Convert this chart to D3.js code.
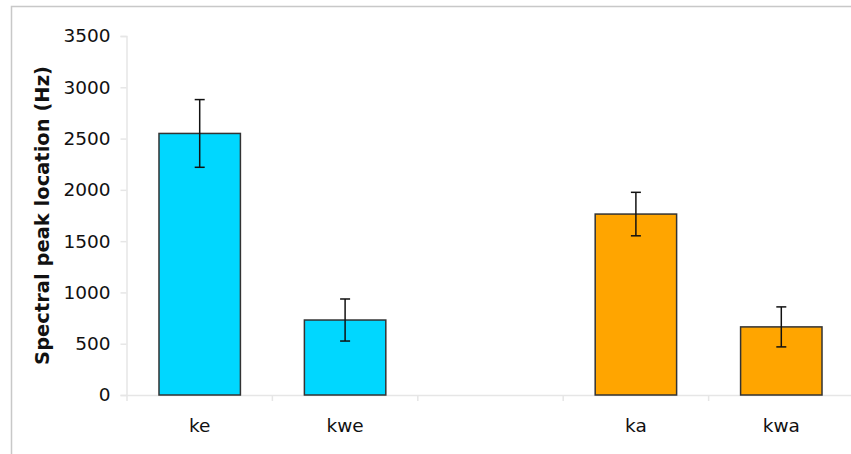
<!DOCTYPE html>
<html>
<head>
<meta charset="utf-8">
<script src="https://cdn.jsdelivr.net/npm/d3@7"></script>
<style>
  html, body { margin: 0; padding: 0; background: #fff; }
  svg { display: block; }
</style>
</head>
<body>
<svg id="chart" width="851" height="454"></svg>
<script>
const categories = ["ke", "kwe", "", "ka", "kwa"];
const values = [2550, 731, null, 1764, 664];
const errors = [330, 205, null, 212, 195];
const colors = ["#00d7ff", "#00d7ff", null, "#ffa500", "#ffa500"];
const yTicks = [0, 500, 1000, 1500, 2000, 2500, 3000, 3500];
const yLabel = "Spectral peak location (Hz)";

const svg = d3.select("#chart");
const font = "'DejaVu Sans', Verdana, sans-serif";

// outer frame
svg.append("path")
  .attr("d", "M11.5,454 V6.5 H851")
  .attr("fill", "none").attr("stroke", "#c8c8c8").attr("stroke-width", 1.5);

const x = d3.scaleBand().domain(categories).range([127, 854]).paddingInner(0.44).paddingOuter(0.22);
const y = d3.scaleLinear().domain([0, 3500]).range([395, 36]);
const step = x.step();
const x0 = 127;

// y axis
const gy = svg.append("g").attr("transform", "translate(126.5,0)")
  .call(d3.axisLeft(y).tickValues(yTicks).tickSize(6).tickPadding(10).tickFormat(d3.format("d")));
gy.select(".domain").attr("stroke", "#e6e6e6").attr("stroke-width", 1.5);
gy.selectAll(".tick line").attr("stroke", "#e6e6e6").attr("stroke-width", 1.5);
gy.selectAll(".tick text").attr("font-family", font).attr("font-size", 18.5).attr("fill", "#111");

// x axis baseline and band ticks
svg.append("line").attr("x1", 126.5).attr("x2", 851).attr("y1", y(0) + 0.5).attr("y2", y(0) + 0.5)
  .attr("stroke", "#e6e6e6").attr("stroke-width", 1.5);
svg.selectAll(".xtick").data(d3.range(categories.length + 1)).enter().append("line")
  .attr("x1", i => x0 + i * step).attr("x2", i => x0 + i * step)
  .attr("y1", y(0)).attr("y2", y(0) + 6)
  .attr("stroke", "#e6e6e6").attr("stroke-width", 1.5);
svg.selectAll(".xlab").data(categories).enter().append("text")
  .attr("x", d => x(d) + x.bandwidth() / 2).attr("y", 432)
  .attr("text-anchor", "middle").attr("font-family", font).attr("font-size", 18.5).attr("fill", "#111")
  .text(d => d);

const data = categories.map((c, i) => ({ c, v: values[i], e: errors[i], col: colors[i] })).filter(d => d.v !== null);

// bars
svg.selectAll(".bar").data(data).enter().append("rect")
  .attr("x", d => x(d.c)).attr("width", x.bandwidth())
  .attr("y", d => y(d.v)).attr("height", d => y(0) - y(d.v))
  .attr("fill", d => d.col).attr("stroke", "#333").attr("stroke-width", 1.5);

// error bars
const eb = svg.selectAll(".err").data(data).enter().append("g")
  .attr("stroke", "#111").attr("stroke-width", 1.5);
eb.append("line")
  .attr("x1", d => x(d.c) + x.bandwidth() / 2).attr("x2", d => x(d.c) + x.bandwidth() / 2)
  .attr("y1", d => y(d.v + d.e)).attr("y2", d => y(d.v - d.e));
eb.append("line")
  .attr("x1", d => x(d.c) + x.bandwidth() / 2 - 5).attr("x2", d => x(d.c) + x.bandwidth() / 2 + 5)
  .attr("y1", d => y(d.v + d.e)).attr("y2", d => y(d.v + d.e));
eb.append("line")
  .attr("x1", d => x(d.c) + x.bandwidth() / 2 - 5).attr("x2", d => x(d.c) + x.bandwidth() / 2 + 5)
  .attr("y1", d => y(d.v - d.e)).attr("y2", d => y(d.v - d.e));

// y label
svg.append("text")
  .attr("transform", `translate(49,${(36 + 395) / 2}) rotate(-90)`)
  .attr("text-anchor", "middle").attr("font-family", font).attr("font-weight", "bold")
  .attr("font-size", 19.5).attr("fill", "#111")
  .text(yLabel);
</script>
</body>
</html>
